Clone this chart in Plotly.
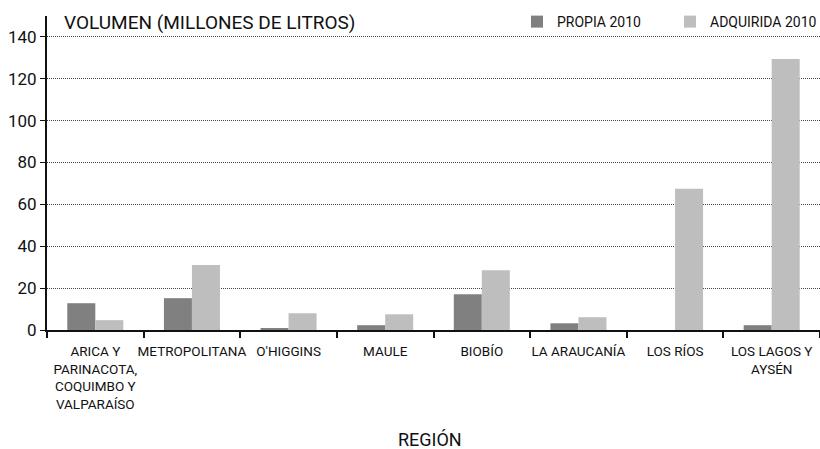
import plotly.graph_objects as go

categories = [
    "ARICA Y<br>PARINACOTA,<br>COQUIMBO Y<br>VALPARAÍSO",
    "METROPOLITANA",
    "O'HIGGINS",
    "MAULE",
    "BIOBÍO",
    "LA ARAUCANÍA",
    "LOS RÍOS",
    "LOS LAGOS Y<br>AYSÉN",
]
propia_2010 = [12.8, 15.2, 0.8, 2.3, 17.1, 3.2, 0.0, 2.3]
adquirida_2010 = [4.7, 31.0, 8.0, 7.5, 28.6, 6.1, 67.5, 129.4]
y_ticks = [0, 20, 40, 60, 80, 100, 120, 140]

FONT = "Roboto, Liberation Sans, sans-serif"

fig = go.Figure()
fig.add_trace(go.Bar(x=categories, y=propia_2010, name="PROPIA 2010", legend="legend",
                     showlegend=True,
                     marker=dict(color="#808080", line=dict(width=0))))
fig.add_trace(go.Bar(x=categories, y=adquirida_2010, name="ADQUIRIDA 2010", legend="legend2",
                     showlegend=True,
                     marker=dict(color="#bebebe", line=dict(width=0))))

leg_common = dict(orientation="h", yanchor="middle", y=1 - 6/314, xanchor="left",
                  font=dict(size=14), itemwidth=30, bgcolor="rgba(0,0,0,0)", visible=True)

fig.update_layout(
    width=820, height=449,
    showlegend=True,
    margin=dict(l=47, r=0, t=16, b=119, autoexpand=False),
    paper_bgcolor="white", plot_bgcolor="white",
    font=dict(family=FONT, color="#111", size=14),
    barmode="group", bargap=0.42, bargroupgap=0,
    legend=dict(x=(537 - 47 - 20) / 773, **leg_common),
    legend2=dict(x=(690 - 47 - 20) / 773, **leg_common),
    xaxis=dict(showline=True, linecolor="#111", linewidth=2, tickangle=0, automargin=False,
               ticks="outside", tickson="boundaries", ticklen=6, tickcolor="#111", tickwidth=2,
               tickfont=dict(size=13.5), ticklabelstandoff=8, showgrid=False),
    yaxis=dict(range=[0, 150], tickvals=y_ticks, showline=True, linecolor="#111", linewidth=2,
               ticks="outside", ticklen=5, tickcolor="#111", tickwidth=1, automargin=False,
               tickfont=dict(size=17), showgrid=True, gridcolor="#444", gridwidth=1,
               griddash="1px,1px", zeroline=False),
    annotations=[
        dict(text="VOLUMEN (MILLONES DE LITROS)", xref="paper", yref="paper",
             x=15/773, y=1 - 6/314, xanchor="left", yanchor="middle",
             showarrow=False, font=dict(size=19)),
        dict(text="REGIÓN", xref="paper", yref="paper",
             x=(430-47)/773, y=-(439-330)/314, xanchor="center", yanchor="middle",
             showarrow=False, font=dict(size=18)),
    ],
)

fig.write_html("out.html", config={"displayModeBar": False},
               post_script="document.body.style.margin='0';document.body.style.overflow='hidden';")
